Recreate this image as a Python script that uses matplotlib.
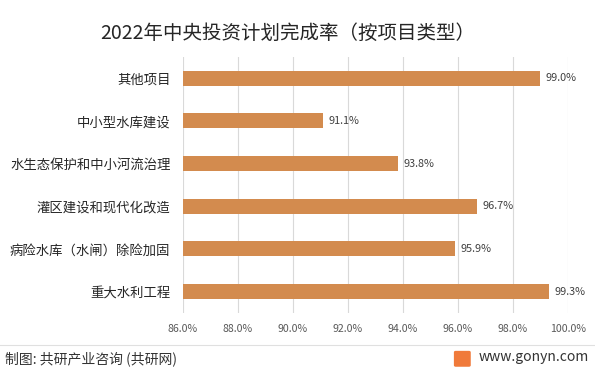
import matplotlib
matplotlib.use("Agg")
import matplotlib.pyplot as plt
from matplotlib.patches import FancyBboxPatch
from matplotlib.lines import Line2D

plt.rcParams['font.family'] = ['Noto Sans CJK SC', 'DejaVu Sans']

categories = ["重大水利工程", "病险水库（水闸）除险加固", "灌区建设和现代化改造",
              "水生态保护和中小河流治理", "中小型水库建设", "其他项目"]
values = [99.3, 95.9, 96.7, 93.8, 91.1, 99.0]
xticks = [86, 88, 90, 92, 94, 96, 98, 100]

bar_color = "#D38B4E"

fig = plt.figure(figsize=(5.95, 3.72), dpi=100)
ax = fig.add_axes([0.3076, 0.159, 0.647, 0.688])

y = range(len(categories))
ax.barh(y, values, height=0.35, color=bar_color, zorder=3)
for yi, v in zip(y, values):
    ax.text(v + 0.2, yi, f"{v:.1f}%", va="center", ha="left", fontsize=7.8, color="#404040")

ax.set_xlim(86, 100)
ax.set_ylim(-0.5, len(categories) - 0.5)
ax.set_xticks(xticks)
ax.set_xticklabels([f"{t:.1f}%" for t in xticks], fontsize=7.6, color="#595959")
ax.set_yticks(list(y))
ax.set_yticklabels(categories, fontsize=9.6, color="#262626")
ax.tick_params(axis="both", length=0)
ax.tick_params(axis="y", pad=9)
ax.tick_params(axis="x", pad=8)
ax.grid(axis="x", color="#D9D9D9", linewidth=0.8, zorder=0)
for s in ax.spines.values():
    s.set_visible(False)

fig.text(0.484, 0.91, "2022年中央投资计划完成率（按项目类型）", ha="center", va="center",
         fontsize=14, color="#262626")

# footer
fig.add_artist(Line2D([0.0, 1.0], [0.072, 0.072], transform=fig.transFigure,
                      color="#E0E0E0", linewidth=0.8))
fig.text(0.008, 0.035, "制图: 共研产业咨询 (共研网)", ha="left", va="center", fontsize=10, color="#333333")
fig.text(0.99, 0.04, "www.gonyn.com", ha="right", va="center", fontsize=10, color="#333333")
fig.add_artist(FancyBboxPatch((0.766, 0.018), 0.022, 0.035, boxstyle="round,pad=0.002",
                              transform=fig.transFigure, color="#F07A3A"))

fig.savefig("out.png", dpi=100)
